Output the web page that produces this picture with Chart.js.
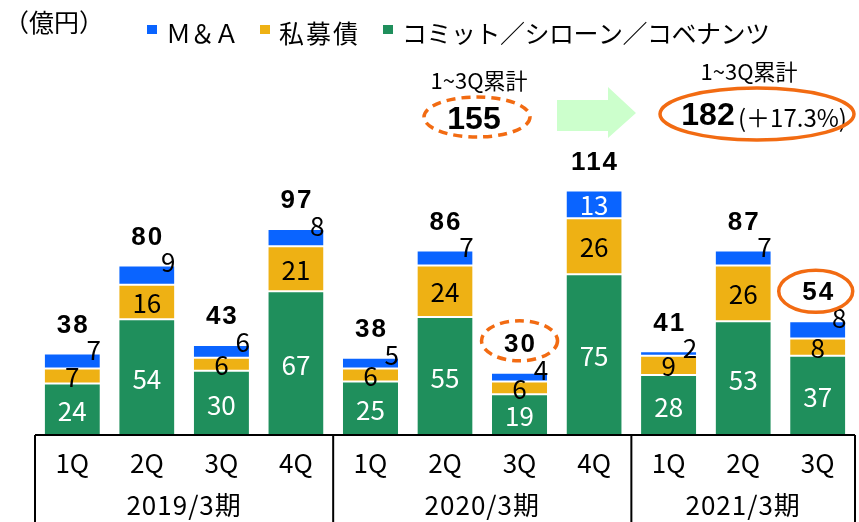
<!DOCTYPE html>
<html lang="ja">
<head>
<meta charset="UTF-8">
<title>案件種類別 実績推移</title>
<style>
    body {
        margin: 0;
        background: #fff;
    }
    .wrap {
        width: 859px;
        height: 522px;
        position: relative;
    }
</style>
</head>
<body>
<div class="wrap"><canvas id="chart"></canvas></div>
<script src="https://cdn.jsdelivr.net/npm/chart.js"></script>
<script>
    // values (億円)
    const quarters = ['1Q', '2Q', '3Q', '4Q', '1Q', '2Q', '3Q', '4Q', '1Q', '2Q', '3Q'];
    const periods = ['2019/3期', '2020/3期', '2021/3期'];
    const periodSizes = [4, 4, 3];
    const maValues = [7, 9, 6, 8, 5, 7, 4, 13, 2, 7, 8];
    const bondValues = [7, 16, 6, 21, 6, 24, 6, 26, 9, 26, 8];
    const commitValues = [24, 54, 30, 67, 25, 55, 19, 75, 28, 53, 37];
    const totals = [38, 80, 43, 97, 38, 86, 30, 114, 41, 87, 54];
    const seriesNames = ['Ｍ＆Ａ', '私募債', 'コミット／シローン／コベナンツ'];
    const seriesColors = ['#0A64FF', '#EEB114', '#1F8F5C'];
    const cumLabel = '1~3Q累計';
    const cumPrev = 155;
    const cumNow = 182;
    const cumGrowth = '(＋17.3%)';
    const circledBars = [6, 10]; // dashed, solid

    const JP = '"Noto Sans CJK JP", "Noto Sans", sans-serif';
    const orange = '#F26B12';

    function ellipse(ctx, x, y, rx, ry, dashed) {
        ctx.save();
        ctx.strokeStyle = orange;
        ctx.lineWidth = 3.5;
        if (dashed) ctx.setLineDash([9, 6]);
        ctx.beginPath();
        ctx.ellipse(x, y, rx, ry, 0, 0, Math.PI * 2);
        ctx.stroke();
        ctx.restore();
    }

    const labelPlugin = {
        id: 'segLabels',
        afterDatasetsDraw(chart) {
            const ctx = chart.ctx;
            const green = chart.getDatasetMeta(0).data;
            const yellow = chart.getDatasetMeta(1).data;
            const blue = chart.getDatasetMeta(2).data;
            ctx.save();
            ctx.textAlign = 'center';
            ctx.textBaseline = 'middle';
            ctx.font = '26px ' + JP;

            green.forEach((bar, i) => {
                ctx.fillStyle = '#fff';
                ctx.fillText(commitValues[i], bar.x, (bar.y + bar.base) / 2 + 2);
            });
            yellow.forEach((bar, i) => {
                ctx.fillStyle = '#000';
                ctx.fillText(bondValues[i], bar.x, (bar.y + bar.base) / 2 + 1);
            });
            blue.forEach((bar, i) => {
                if (bar.base - bar.y > 20) {
                    ctx.fillStyle = '#fff';
                    ctx.textAlign = 'center';
                    ctx.fillText(maValues[i], bar.x, (bar.y + bar.base) / 2 + 1);
                } else {
                    ctx.fillStyle = '#000';
                    ctx.textAlign = 'right';
                    ctx.fillText(maValues[i], bar.x + bar.width / 2 + 1, bar.y - 3);
                }
            });

            // totals
            ctx.textAlign = 'center';
            ctx.font = 'bold 26px "Liberation Sans", sans-serif';
            ctx.letterSpacing = '2px';
            ctx.fillStyle = '#000';
            blue.forEach((bar, i) => {
                ctx.fillText(totals[i], bar.x + 1, bar.y - 28);
            });
            ctx.letterSpacing = '0px';

            // circled totals
            ellipse(ctx, blue[circledBars[0]].x, blue[circledBars[0]].y - 32, 38, 20, true);
            ellipse(ctx, blue[circledBars[1]].x - 2, blue[circledBars[1]].y - 30, 37, 21, false);
            ctx.restore();
        }
    };

    const frame = {
        id: 'frame',
        afterDraw(chart) {
            const ctx = chart.ctx;
            const area = chart.chartArea;
            const x = chart.scales.x;
            const h = chart.height;
            ctx.save();

            // axis table
            ctx.strokeStyle = '#000';
            ctx.lineWidth = 2;
            ctx.beginPath();
            ctx.moveTo(area.left, area.bottom);
            ctx.lineTo(area.right, area.bottom);
            const edges = [area.left];
            let n = 0;
            periodSizes.forEach(s => {
                n += s;
                edges.push(n < quarters.length ? (x.getPixelForValue(n - 1) + x.getPixelForValue(n)) / 2 : area.right);
            });
            edges.forEach(e => {
                ctx.moveTo(e, area.bottom);
                ctx.lineTo(e, h);
            });
            ctx.stroke();

            ctx.fillStyle = '#000';
            ctx.textAlign = 'center';
            ctx.textBaseline = 'middle';
            ctx.font = '26px ' + JP;
            quarters.forEach((q, i) => ctx.fillText(q, x.getPixelForValue(i), area.bottom + 28));
            ctx.letterSpacing = '1px';
            periods.forEach((p, i) => ctx.fillText(p, (edges[i] + edges[i + 1]) / 2, area.bottom + 70));
            ctx.letterSpacing = '0px';

            // unit + legend
            ctx.textAlign = 'left';
            ctx.font = '25px ' + JP;
            ctx.fillText('（億円）', 4, 22);
            const legendX = [147, 260, 383];
            const legendSpacing = ['-1px', '2px', '-0.5px'];
            ctx.font = '25px ' + JP;
            seriesNames.forEach((name, i) => {
                ctx.fillStyle = seriesColors[i];
                ctx.fillRect(legendX[i], 25, 10, 9);
                ctx.fillStyle = '#000';
                ctx.letterSpacing = legendSpacing[i];
                ctx.fillText(name, legendX[i] + 19, 33);
            });
            ctx.letterSpacing = '0px';

            // cumulative comparison
            ctx.textAlign = 'center';
            ctx.font = '22px ' + JP;
            ctx.fillText(cumLabel, 479, 81);
            ctx.fillText(cumLabel, 749, 72);
            ctx.font = 'bold 32px "Liberation Sans", sans-serif';
            ctx.fillText(cumPrev, 474, 120);
            ctx.fillText(cumNow, 708, 116);
            ctx.textAlign = 'left';
            ctx.font = '24px ' + JP;
            ctx.fillText(cumGrowth, 738, 118);

            ellipse(ctx, 477, 117, 53, 20, true);
            ellipse(ctx, 757, 114, 97, 26, false);

            ctx.fillStyle = '#CCFFCC';
            ctx.beginPath();
            ctx.moveTo(557, 100);
            ctx.lineTo(608, 100);
            ctx.lineTo(608, 87);
            ctx.lineTo(636, 113);
            ctx.lineTo(608, 138);
            ctx.lineTo(608, 131);
            ctx.lineTo(557, 131);
            ctx.closePath();
            ctx.fill();
            ctx.restore();
        }
    };

    const seg = (label, data, color) => ({
        label: label,
        data: data,
        backgroundColor: color,
        borderColor: '#fff',
        borderWidth: { top: 1, bottom: 1, left: 0, right: 0 },
        borderSkipped: false,
        barPercentage: 0.74,
        categoryPercentage: 1
    });

    new Chart(document.getElementById('chart'), {
        type: 'bar',
        data: {
            labels: quarters,
            datasets: [
                seg(seriesNames[2], commitValues, seriesColors[2]),
                seg(seriesNames[1], bondValues, seriesColors[1]),
                seg(seriesNames[0], maValues, seriesColors[0])
            ]
        },
        options: {
            responsive: true,
            maintainAspectRatio: false,
            animation: false,
            layout: { padding: { left: 35, right: 4, top: 6, bottom: 87 } },
            plugins: {
                legend: { display: false },
                tooltip: { enabled: false }
            },
            scales: {
                x: { stacked: true, display: false },
                y: { stacked: true, display: false, min: 0, max: 200 }
            }
        },
        plugins: [labelPlugin, frame]
    });
</script>
</body>
</html>
